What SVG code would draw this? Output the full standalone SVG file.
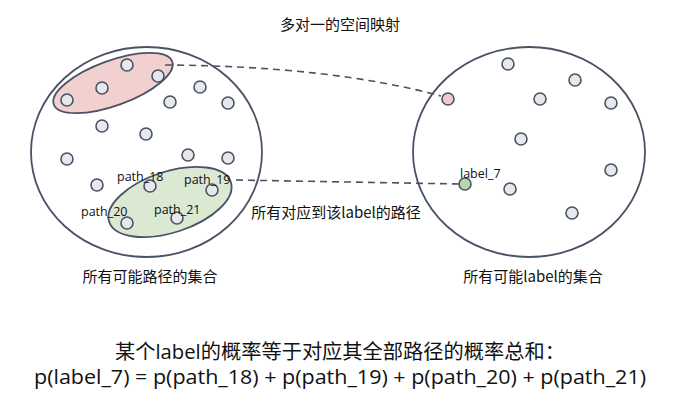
<svg xmlns="http://www.w3.org/2000/svg" width="678" height="418" viewBox="0 0 678 418">
<style>
.big{fill:none;stroke:#4a5266;stroke-width:1.8}
.dot{fill:#e6e8ec;stroke:#4a5266;stroke-width:1.6}
.lbl{font-family:"Open Sans","Noto Sans CJK SC",sans-serif;font-size:12.5px;fill:#111}
.cap{font-family:"Noto Sans CJK SC","Open Sans",sans-serif;font-size:15px;fill:#111}
.bot{font-family:"Open Sans","Noto Sans CJK SC",sans-serif;font-size:20px;fill:#111}
.dash{fill:none;stroke:#4a5266;stroke-width:1.6;stroke-dasharray:7 5}
</style>
<rect width="678" height="418" fill="#ffffff"/>
<text class="cap" x="340" y="30" text-anchor="middle">多对一的空间映射</text>

<g id="paths-set">
<ellipse class="big" cx="146.5" cy="152" rx="115.5" ry="105"/>
<ellipse cx="113" cy="83" rx="63" ry="22.5" transform="rotate(-20 113 83)" fill="#f2d0d0" stroke="#4a5266" stroke-width="1.8"/>
<ellipse cx="170" cy="202" rx="64" ry="30.5" transform="rotate(-18 170 202)" fill="#dbe9d2" stroke="#4a5266" stroke-width="1.8"/>
<circle class="dot" cx="127" cy="65" r="6"/>
<circle class="dot" cx="158" cy="76" r="6"/>
<circle class="dot" cx="102" cy="88" r="6"/>
<circle class="dot" cx="67" cy="100" r="6"/>
<circle class="dot" cx="200" cy="87" r="6"/>
<circle class="dot" cx="170" cy="102" r="6"/>
<circle class="dot" cx="228" cy="103" r="6"/>
<circle class="dot" cx="102" cy="126" r="6"/>
<circle class="dot" cx="146" cy="134" r="6"/>
<circle class="dot" cx="67" cy="159" r="6"/>
<circle class="dot" cx="188" cy="155" r="6"/>
<circle class="dot" cx="228" cy="158" r="6"/>
<circle class="dot" cx="97" cy="185" r="6"/>
<circle class="dot" cx="150" cy="186" r="6"/>
<circle class="dot" cx="212" cy="190" r="6"/>
<circle class="dot" cx="127" cy="223" r="6"/>
<circle class="dot" cx="177" cy="218" r="6"/>
<text class="lbl" x="117" y="181">path_18</text>
<text class="lbl" x="184" y="184">path_19</text>
<text class="lbl" x="81" y="216">path_20</text>
<text class="lbl" x="154" y="214">path_21</text>
<text class="cap" x="150" y="282" text-anchor="middle">所有可能路径的集合</text>
</g>

<g id="labels-set">
<ellipse class="big" cx="529" cy="152" rx="116" ry="105"/>
<circle class="dot" cx="508" cy="64" r="6"/>
<circle class="dot" cx="575" cy="80" r="6"/>
<circle class="dot" cx="540" cy="99" r="6"/>
<circle class="dot" cx="611" cy="103" r="6"/>
<circle class="dot" cx="521" cy="139" r="6"/>
<circle class="dot" cx="611" cy="170" r="6"/>
<circle class="dot" cx="510" cy="189" r="6"/>
<circle class="dot" cx="572" cy="213" r="6"/>
<circle cx="448" cy="99" r="6" fill="#f4c8ce" stroke="#4a5266" stroke-width="1.6"/>
<circle cx="465" cy="184" r="6" fill="#b9d8a9" stroke="#4a5266" stroke-width="1.6"/>
<text class="lbl" x="460" y="178">label_7</text>
<text class="cap" x="533" y="282" text-anchor="middle">所有可能label的集合</text>
</g>

<g id="connectors">
<path class="dash" d="M165 65 Q330 66 441 96"/>
<path class="dash" d="M236 180 L459 184"/>
</g>
<text class="cap" x="336" y="218" text-anchor="middle">所有对应到该label的路径</text>

<text class="bot" x="340" y="359" text-anchor="middle" textLength="450" lengthAdjust="spacingAndGlyphs" font-family="'Noto Sans CJK SC',sans-serif">某个label的概率等于对应其全部路径的概率总和：</text>
<text class="bot" x="340" y="384" text-anchor="middle" textLength="612" lengthAdjust="spacingAndGlyphs">p(label_7) = p(path_18) + p(path_19) + p(path_20) + p(path_21)</text>
</svg>
